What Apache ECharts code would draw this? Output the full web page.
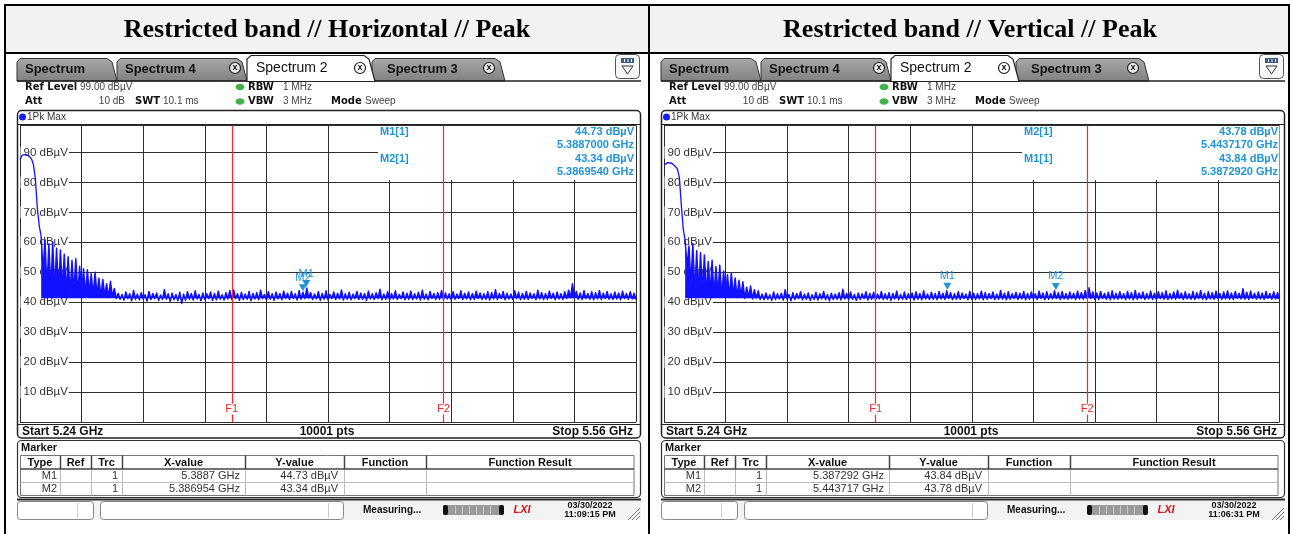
<!DOCTYPE html>
<html><head><meta charset="utf-8">
<script src="https://cdn.jsdelivr.net/npm/echarts@6/dist/echarts.min.js"></script>
<style>html,body{margin:0;padding:0;background:#fff}#c{width:1293px;height:534px}</style>
</head><body><div id="c"></div>
<script>
// ---------- data ----------
const panelTitles = ['Restricted band // Horizontal // Peak', 'Restricted band // Vertical // Peak'];
const startGHz = 5.24, stopGHz = 5.56, stepMHz = 1, sweepPoints = 10001;
const refLevel = 99, yStep = 10;
const limitFreqGHz = [5.35, 5.46];
const limitNames = ['F1', 'F2'];
const markerNames = ['M1', 'M2'];
const markerFreqH = [5.3887, 5.386954];
const markerLevelH = [44.73, 43.34];
const markerFreqV = [5.387292, 5.443717];
const markerLevelV = [43.84, 43.78];
const infoOrderH = [0, 1];
const infoOrderV = [1, 0];
const sweepDate = '03/30/2022';
const sweepTimes = ['11:09:15 PM', '11:06:31 PM'];
// Trace levels (dBµV), one reading per 1 MHz from 5.240 GHz (alternating peak / dip of the dense trace)
const traceH = [87.6,89.0,89.5,89.4,89.1,88.6,87.8,85.9,81.0,71.5,65.5,
62.0,50.5,60.8,44.0,59.5,43.2,60.2,43.6,58.0,43.0,57.4,44.2,56.0,43.1,55.2,42.8,53.9,43.5,54.5,42.6,
52.0,43.0,51.2,42.4,50.8,42.9,49.5,42.2,50.0,42.5,48.0,41.9,47.6,42.3,46.2,41.6,47.0,41.8,44.6,41.2,
43.0,41.0,42.6,40.7,43.4,41.2,42.8,40.5,43.9,41.0,
42.7,40.8,43.2,41.1,42.5,40.4,43.6,40.9,42.9,41.2,
43.1,40.6,42.4,40.9,44.2,41.0,42.8,40.3,43.0,40.8,
42.6,40.5,43.3,39.6,42.7,40.6,43.5,41.0,42.9,40.7,
43.8,41.1,42.6,40.5,43.1,40.9,42.8,41.2,43.4,40.6,
42.9,40.8,43.7,41.0,42.5,40.7,43.2,41.1,43.9,40.9,
44.1,41.2,42.8,40.6,43.3,40.9,42.7,41.0,43.6,40.5,
42.9,41.1,43.2,40.8,44.0,41.2,42.6,40.7,43.5,41.0,
42.8,40.6,43.4,41.1,42.9,40.8,43.7,41.3,43.0,40.9,
43.6,41.2,42.8,40.7,43.9,41.0,43.3,41.2,44.7,41.4,
43.2,40.9,42.7,41.1,43.5,40.6,42.9,41.0,43.8,40.8,
42.6,41.2,43.4,40.9,43.0,41.1,44.1,40.7,42.8,41.0,
43.3,40.8,42.7,41.2,43.6,40.9,43.1,41.0,42.9,40.6,
43.7,41.1,42.8,40.9,43.2,41.2,44.3,40.8,42.7,41.0,
43.5,40.7,42.9,41.1,43.8,40.9,42.6,41.2,43.4,40.8,
43.0,41.0,43.7,40.9,42.8,41.1,43.3,40.7,44.0,41.0,
42.7,40.8,43.6,41.2,42.9,40.9,43.2,41.0,43.9,40.8,
43.1,41.1,42.8,40.7,43.5,41.0,42.7,41.2,43.8,40.9,
43.0,41.1,43.4,40.8,42.9,41.0,43.7,41.2,43.1,40.9,
42.8,41.0,43.5,40.7,43.2,41.1,44.2,40.9,42.9,41.2,
43.6,40.8,43.0,41.1,42.7,40.9,43.8,41.2,43.3,40.8,
42.9,41.0,43.6,40.9,43.1,41.2,42.8,40.8,44.0,41.1,
43.2,40.9,42.9,41.0,43.7,41.2,43.0,40.8,43.4,41.1,
42.8,40.9,43.5,41.2,44.0,41.5,46.2,41.8,43.6,41.0,
43.1,40.9,43.8,41.2,42.9,41.0,43.5,40.8,43.2,41.1,
43.9,40.9,43.0,41.2,43.6,41.0,42.8,40.9,43.4,41.1,
43.1,40.8,43.7,41.2,42.9,41.0,43.5,41.1,43.0,40.9];
const traceV = [85.8,86.3,86.6,86.6,86.4,86.0,85.3,84.4,81.6,72.5,64.5,
60.5,52.0,58.8,45.5,59.6,42.8,57.2,42.4,56.5,43.0,55.8,42.2,53.6,42.9,54.0,42.1,51.9,42.6,52.3,41.8,
50.4,42.3,49.2,41.6,49.8,42.0,48.1,41.5,47.3,41.9,46.8,41.3,45.0,41.6,45.4,41.1,44.2,41.4,43.8,40.9,
42.7,40.8,43.1,41.0,42.5,40.6,43.4,40.9,42.8,41.1,
43.0,40.7,44.2,41.0,42.6,40.5,43.2,40.9,42.9,41.2,
43.5,40.8,42.7,41.0,43.1,40.6,42.5,40.9,43.3,40.7,
42.8,41.1,43.6,40.8,42.6,40.5,43.0,40.9,42.7,41.0,
43.2,40.7,44.3,41.1,42.9,40.8,43.4,41.0,42.6,40.6,
43.1,40.9,42.8,41.2,43.5,40.7,42.9,41.0,43.3,40.8,
42.7,41.1,43.6,40.9,42.8,41.0,43.2,40.6,42.9,41.1,
43.7,40.8,42.6,41.0,43.4,40.9,42.8,41.2,43.1,40.7,
43.5,41.0,42.9,40.8,43.8,41.1,42.7,40.9,43.3,41.0,
42.9,40.8,43.6,41.1,43.0,40.9,43.8,41.2,43.2,40.8,
42.8,41.0,43.5,40.9,43.1,41.2,42.7,40.8,43.6,41.0,
43.0,40.9,42.8,41.1,43.7,40.8,43.2,41.0,42.9,41.2,
43.4,40.9,42.7,41.0,43.9,41.1,43.0,40.8,43.5,41.0,
42.8,41.2,43.3,40.9,43.0,41.1,43.6,40.8,42.9,41.0,
43.4,41.1,42.8,40.9,43.7,41.2,43.1,40.8,43.5,41.0,
42.9,41.1,43.8,41.2,43.2,40.9,43.6,41.1,42.9,41.0,
43.4,41.2,43.0,40.9,43.7,41.1,43.2,41.0,43.9,41.3,
44.8,41.2,43.4,41.0,43.1,40.9,43.6,41.2,42.9,41.0,
43.3,40.8,43.8,41.1,43.0,41.0,43.5,41.2,42.8,40.9,
43.6,41.1,43.2,40.8,43.9,41.0,43.1,41.2,43.4,40.9,
42.9,41.1,43.7,41.0,43.0,40.8,43.5,41.2,43.2,41.0,
43.8,40.9,42.9,41.1,43.4,41.0,44.0,41.2,43.1,40.9,
43.5,41.1,42.8,41.0,43.6,40.9,43.2,41.2,43.9,41.0,
43.0,40.8,43.5,41.1,43.2,41.0,43.7,41.2,42.9,40.9,
43.4,41.1,43.8,41.0,43.1,40.9,43.6,41.2,43.0,41.1,
44.5,41.0,43.3,40.9,43.7,41.2,43.0,41.0,43.4,41.1,
43.1,40.9,43.6,41.2,42.9,41.0,43.5,41.1,43.2,41.0];
const rollOffEnd = 11; // index where the carrier edge ends and the dense noise begins

// ---------- helpers ----------
const spanMHz = Math.round((stopGHz - startGHz) * 1000);
const off = f => +((f - startGHz) * 1000).toFixed(4);
const pts = (arr, from, to) => arr.map((v, i) => [i * stepMHz, v]).slice(from, to);
const SANS = '"Liberation Sans", Arial, sans-serif';
const DV = '"DejaVu Sans", sans-serif';
const MK = '#1f94d6', RED = '#f22a2a', TRACE = '#1212ff';
const G = [];
function txt(x, y, s, font, fill, align, z) {
  G.push({type:'text', z: z == null ? 20 : z, x, y, silent:true,
    style:{text:s, font, fill: fill || '#222', align: align || 'left', textAlign: align || 'left', verticalAlign:'middle', textVerticalAlign:'middle'}});
}
function rect(x, y, w, h, fill, stroke, lw, r, z) {
  G.push({type:'rect', z: z == null ? 15 : z, silent:true, shape:{x, y, width:w, height:h, r: r || 0},
    style:{fill: fill || 'none', stroke: stroke || 'none', lineWidth: lw || 1}});
}
function line(x1, y1, x2, y2, stroke, lw, z) {
  G.push({type:'line', z: z == null ? 16 : z, silent:true, shape:{x1, y1, x2, y2}, style:{stroke, lineWidth: lw || 1}});
}
function poly(points, fill, stroke, lw, z) {
  G.push({type:'polygon', z: z == null ? 15 : z, silent:true, shape:{points}, style:{fill, stroke: stroke || 'none', lineWidth: lw || 1}});
}
function circ(cx, cy, r, fill, stroke, lw, z) {
  G.push({type:'circle', z: z == null ? 17 : z, silent:true, shape:{cx, cy, r}, style:{fill, stroke: stroke || 'none', lineWidth: lw || 1}});
}

// ---------- page table ----------
rect(6, 6, 1283, 46, '#f2f2f2', null, 0, 0, 5);
line(4, 5, 1290, 5, '#000', 2);
line(4, 53, 1290, 53, '#000', 2);
[5, 649, 1289].forEach(x => line(x, 4, x, 534, '#000', 2));
panelTitles.forEach((t, k) => txt(k ? 970 : 327, 30, t, 'bold 26px "Liberation Serif", "Times New Roman", serif', '#000', 'center'));

function panel(k, mNames, mFreq, mLevel, order, time) {
  const d = k * 644;
  const gray = new echarts.graphic.LinearGradient(0, 0, 0, 1, [{offset:0, color:'#a9a9a9'}, {offset:1, color:'#808080'}]);
  // tabs (back to front)
  const tabs = [[372, 505, 'Spectrum 3', 387], [117, 247, 'Spectrum 4', 125], [17, 117, 'Spectrum', 25]];
  tabs.forEach(([L, R, name, tx], j) => {
    poly([[L + d, 81], [L + d, 62], [L + 3 + d, 58.5], [R - 10 + d, 58.5], [R - 5 + d, 62], [R + d, 81]], gray, '#333', 1, 10 + j);
    txt(tx + d, 69, name, 'bold 13px ' + SANS, '#111', 'left', 13 + j);
  });
  poly([[247 + d, 81.5], [247 + d, 59], [251 + d, 55.5], [364 + d, 55.5], [369 + d, 59], [375 + d, 81.5]], '#fff', '#222', 1.2, 16);
  txt(256 + d, 68, 'Spectrum 2', '14px ' + SANS, '#111', 'left', 17);
  line(17 + d, 81, 247 + d, 81, '#222', 1.5, 17);
  line(375 + d, 81, 641 + d, 81, '#222', 1.5, 17);
  [[235, '#e8e8e8'], [360, '#fff'], [489, '#e8e8e8']].forEach(([x, f]) => {
    circ(x + d, 68, 5.5, f, '#222', 1.2, 18);
    txt(x + d, 68, 'x', 'bold 9px ' + SANS, '#111', 'center', 19);
  });
  // window icon
  rect(615.5 + d, 54.5, 24, 24, '#f7f7f7', '#555', 1, 4, 18);
  rect(621 + d, 58, 13, 5, '#3d5a86', null, 0, 0, 19);
  [624.5, 628, 631.5].forEach(x => line(x + d, 59, x + d, 62, '#fff', 1, 20));
  poly([[622 + d, 66], [633 + d, 66], [627.5 + d, 74]], 'none', '#333', 1, 19);
  // settings rows
  const B = 'bold 10px ' + DV, R = '10px ' + SANS;
  txt(25 + d, 87, 'Ref Level', B, '#111'); txt(80 + d, 87, refLevel.toFixed(2) + ' dBµV', R, '#444');
  txt(25 + d, 101.5, 'Att', B, '#111'); txt(125 + d, 101.5, '10 dB', R, '#444', 'right');
  txt(135 + d, 101.5, 'SWT', B, '#111'); txt(163 + d, 101.5, '10.1 ms', R, '#444');
  [87, 101.5].forEach(y => G.push({type:'ellipse', z:17, silent:true, shape:{cx:240 + d, cy:y, rx:4.5, ry:3.2}, style:{fill:'#3fb24a'}}));
  txt(248 + d, 87, 'RBW', B, '#111'); txt(283 + d, 87, '1 MHz', R, '#444');
  txt(248 + d, 101.5, 'VBW', B, '#111'); txt(283 + d, 101.5, '3 MHz', R, '#444');
  txt(331 + d, 101.5, 'Mode', B, '#111'); txt(365 + d, 101.5, 'Sweep', R, '#444');
  // diagram frame
  rect(17.5 + d, 110.5, 623, 327.5, 'none', '#222', 1.5, 4, 18);
  line(17.5 + d, 124.5, 640.5 + d, 124.5, '#222', 1, 18);
  circ(22.5 + d, 117, 3.5, '#1a1aff', null, 0, 19);
  txt(27 + d, 117, '1Pk Max', R, '#333');
  line(17.5 + d, 424.5, 640.5 + d, 424.5, '#222', 1.2, 18);
  const SB = 'bold 12px ' + SANS;
  txt(22 + d, 431.5, 'Start ' + startGHz.toFixed(2) + ' GHz', SB, '#111');
  txt(327 + d, 431.5, sweepPoints + ' pts', SB, '#111', 'center');
  txt(633 + d, 431.5, 'Stop ' + stopGHz.toFixed(2) + ' GHz', SB, '#111', 'right');
  // marker info box (covers the grid in the top right corner)
  const bx = (k ? 1022 : 378), bw = (k ? 1279.5 : 636) - bx;
  rect(bx, 126, bw, 54, '#fff', null, 0, 0, 1);
  const IB = 'bold 11px ' + SANS;
  order.forEach((m, r) => {
    const y0 = 131.5 + r * 27;
    txt(380 + d, y0, mNames[m] + '[1]', IB, MK);
    txt(634 + d, y0, mLevel[m].toFixed(2) + ' dBµV', IB, MK, 'right');
    txt(634 + d, y0 + 13.5, mFreq[m].toFixed(7) + ' GHz', IB, MK, 'right');
  });
  // marker table
  rect(17.5 + d, 440.5, 623, 57, 'none', '#333', 1.2, 4, 18);
  txt(21 + d, 447.5, 'Marker', 'bold 11px ' + SANS, '#111');
  const cols = [20, 60, 91, 122, 245, 344, 426, 634];
  const heads = ['Type', 'Ref', 'Trc', 'X-value', 'Y-value', 'Function', 'Function Result'];
  rect(20.5 + d, 455.5, 613.5, 40, '#fff', '#777', 1, 0, 16);
  line(20.5 + d, 469, 634 + d, 469, '#444', 1.5, 18);
  line(20.5 + d, 482.5, 634 + d, 482.5, '#bbb', 1, 17);
  cols.slice(1, -1).forEach(x => { line(x + 0.5 + d, 455.5, x + 0.5 + d, 469, '#444', 1.5, 18); line(x + 0.5 + d, 469, x + 0.5 + d, 495.5, '#bbb', 1, 17); });
  heads.forEach((h, c) => txt((cols[c] + cols[c + 1]) / 2 + d, 462.5, h, 'bold 11px ' + SANS, '#111', 'center'));
  mNames.forEach((n, r) => {
    const y = 475.8 + r * 13.5, T = '11px ' + SANS;
    txt(57 + d, y, n, T, '#333', 'right');
    txt(118 + d, y, '1', T, '#333', 'right');
    txt(240 + d, y, String(+mFreq[r].toFixed(6)) + ' GHz', T, '#333', 'right');
    txt(338 + d, y, mLevel[r].toFixed(2) + ' dBµV', T, '#333', 'right');
  });
  // status bar
  rect(17 + d, 500, 624, 20, '#f3f3f3', null, 0, 0, 14);
  line(17 + d, 499.5, 641 + d, 499.5, '#2a2a2a', 2, 18);
  rect(17.5 + d, 501.5, 76, 18, '#fff', '#888', 1, 3, 16);
  line(77.5 + d, 503, 77.5 + d, 518, '#ccc', 1, 17);
  rect(100.5 + d, 501.5, 243, 18, '#fff', '#888', 1, 3, 16);
  line(328.5 + d, 503, 328.5 + d, 518, '#ccc', 1, 17);
  txt(363 + d, 510.5, 'Measuring...', 'bold 10px ' + SANS, '#111');
  rect(443 + d, 505, 61, 10, '#9a9a9a', null, 0, 2, 16);
  rect(443 + d, 505, 5, 10, '#111', null, 0, 2, 17);
  rect(499 + d, 505, 5, 10, '#111', null, 0, 2, 17);
  [455, 462, 469, 476, 483, 490].forEach(x => line(x + 0.5 + d, 506, x + 0.5 + d, 514, '#c8c8c8', 1, 17));
  txt(522 + d, 510, 'LXI', 'italic bold 11px ' + SANS, '#d9101a', 'center');
  txt(590 + d, 506, sweepDate, 'bold 9px ' + SANS, '#111', 'center');
  txt(590 + d, 514.5, time, 'bold 9px ' + SANS, '#111', 'center');
  [[628, 520, 640, 508], [632, 520, 640, 512], [636, 520, 640, 516]].forEach(([a, b, c, e]) => line(a + d, b, c + d, e, '#777', 1, 17));
}
panel(0, markerNames, markerFreqH, markerLevelH, infoOrderH, sweepTimes[0]);
panel(1, markerNames, markerFreqV, markerLevelV, infoOrderV, sweepTimes[1]);

// ---------- chart ----------
const gridLine = {show:true, lineStyle:{color:'#2e2e2e', width:1}};
function traceSeries(k, data, mFreq, mLevel) {
  const edge = {
    type:'line', xAxisIndex:k, yAxisIndex:k, data: pts(data, 0, rollOffEnd + 1), showSymbol:false, symbol:'none',
    lineStyle:{color:TRACE, width:1.3}, silent:true, animation:false, z:3
  };
  const noise = {
    type:'line', xAxisIndex:k, yAxisIndex:k, data: pts(data, rollOffEnd), showSymbol:false, symbol:'none',
    lineStyle:{color:TRACE, width:1.5, join:'round'}, areaStyle:{color:TRACE, opacity:1, origin:41.3},
    silent:true, animation:false, z:3,
    markLine:{silent:true, symbol:'none', animation:false, label:{show:false},
      lineStyle:{color:RED, width:1.2, type:'solid', opacity:1},
      data: limitFreqGHz.map(f => ({xAxis: off(f)}))},
    markPoint:{silent:true, animation:false, data:[
      ...markerNames.map((n, j) => ({name:n, coord:[off(mFreq[j]), mLevel[j]],
        symbol:'path://M0,0 L10,0 L5,9 Z', symbolSize:[8, 7], symbolOffset:[0, -4.5], itemStyle:{color:MK},
        label:{show:true, position:'top', distance:1, formatter:n, color:MK, fontSize:11, fontFamily:'Liberation Sans'}})),
      ...limitNames.map((n, j) => ({name:n, coord:[off(limitFreqGHz[j]), 4.3], symbol:'rect', symbolSize:1, itemStyle:{color:'rgba(0,0,0,0)'},
        label:{show:true, position:'inside', formatter:n, color:RED, fontSize:11, fontFamily:'Liberation Sans', backgroundColor:'#fff', padding:[0, 1]}}))
    ]}
  };
  return [edge, noise];
}
const chart = echarts.init(document.getElementById('c'), null, {renderer:'canvas'});
chart.setOption({
  animation:false, backgroundColor:'#fff',
  grid:[{left:20, top:125.5, width:616, height:296.5}, {left:664, top:125.5, width:615.5, height:296.5}],
  xAxis:[0, 1].map(i => ({gridIndex:i, type:'value', min:0, max:spanMHz, interval:32,
    axisLine:{show:false}, axisTick:{show:false}, axisLabel:{show:false}, splitLine:gridLine})),
  yAxis:[0, 1].map(i => ({gridIndex:i, type:'value', min:0, max:refLevel, interval:yStep,
    axisLine:{show:false}, axisTick:{show:false}, splitLine:gridLine,
    axisLabel:{inside:true, margin:0.5, showMinLabel:false, showMaxLabel:false, color:'#333', fontSize:11.5, fontFamily:'Liberation Sans',
      backgroundColor:'#fff', padding:[0, 1, 0, 3], formatter:v => (v > 0 && v % yStep === 0) ? v + ' dBµV' : ''}})),
  series:[...traceSeries(0, traceH, markerFreqH, markerLevelH), ...traceSeries(1, traceV, markerFreqV, markerLevelV)],
  graphic:{elements:G}
});
</script></body></html>
